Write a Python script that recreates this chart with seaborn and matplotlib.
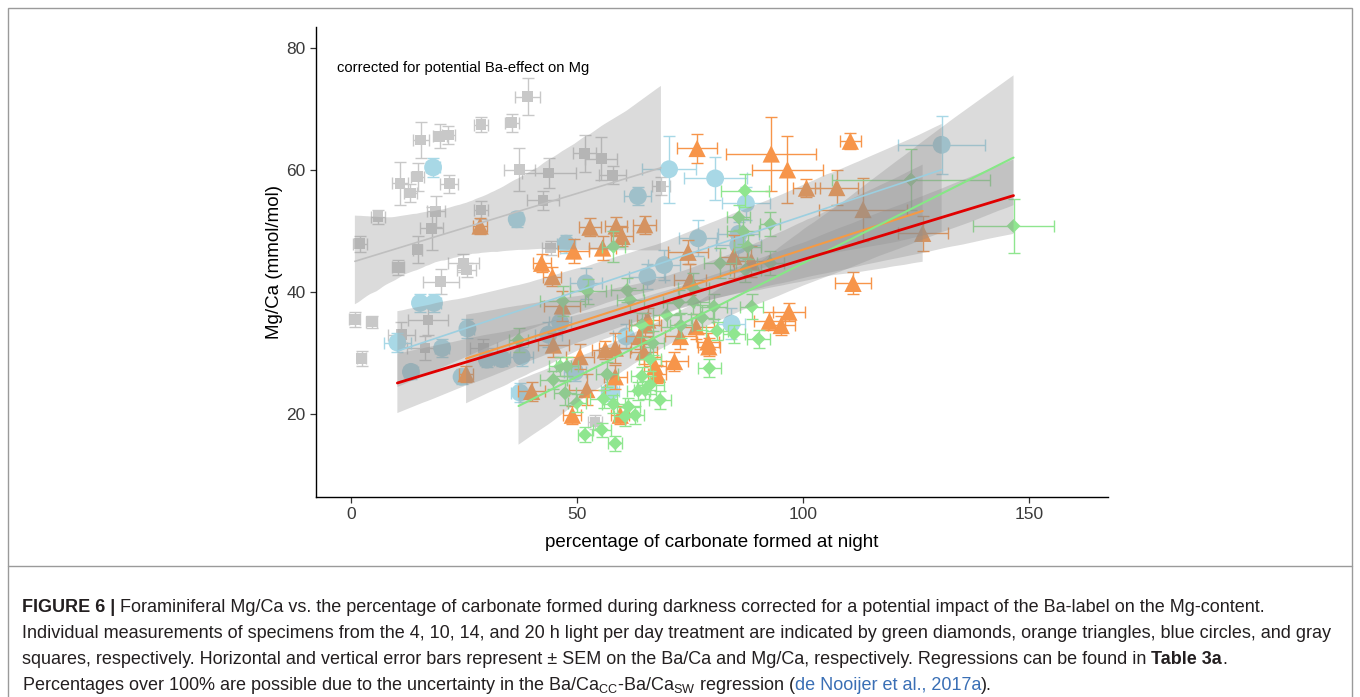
import numpy as np
import matplotlib
matplotlib.use("Agg")
import matplotlib.pyplot as plt
import seaborn as sns
from matplotlib.patches import Rectangle
from matplotlib.lines import Line2D

# ---------------- data ----------------
# 20 h light (gray squares)
gray_x = [0.9, 2.0, 2.4, 4.6, 6.0, 10.5, 10.9, 11.2, 13.2, 14.8, 14.8, 15.5, 16.4, 17.1, 17.9, 18.8, 19.7, 19.9,
          21.6, 21.8, 24.9, 25.6, 28.8, 28.8, 29.3, 35.6, 37.3, 39.1, 42.5, 43.8, 44.2, 51.7, 54.0, 55.4, 57.9, 68.6]
gray_y = [35.5, 47.9, 29.1, 35.1, 52.3, 44.0, 57.8, 33.0, 56.2, 58.9, 46.9, 64.9, 30.8, 35.4, 50.4, 53.2, 65.5, 41.7,
          65.7, 57.7, 44.7, 43.6, 67.4, 53.4, 30.8, 67.7, 60.0, 72.0, 55.0, 59.5, 47.2, 62.7, 18.7, 61.8, 59.1, 57.3]
gray_xerr = [1.2, 1.5, 1.0, 1.2, 1.5, 1.3, 1.8, 3.0, 1.5, 1.5, 1.0, 1.8, 4.0, 4.5, 2.5, 2.0, 1.5, 4.0,
             1.5, 2.0, 3.5, 2.0, 1.5, 1.5, 3.0, 1.5, 3.5, 2.8, 3.5, 6.0, 2.0, 2.5, 1.5, 3.5, 3.0, 2.0]
gray_yerr = [1.2, 1.3, 1.2, 1.0, 1.2, 1.2, 3.5, 2.0, 1.5, 2.3, 2.2, 3.0, 2.0, 2.5, 3.5, 2.5, 2.0, 2.0,
             1.5, 1.5, 1.5, 1.2, 1.2, 1.5, 1.5, 1.5, 3.5, 3.0, 1.5, 2.5, 1.2, 3.0, 1.2, 3.5, 1.5, 1.5]

# 14 h light (blue circles)
blue_x = [10.3, 13.3, 15.3, 18.4, 18.2, 20.2, 24.5, 25.8, 30.1, 33.4, 36.7, 37.4, 37.8, 43.7, 46.3, 47.6, 49.6,
          52.0, 57.4, 60.9, 63.5, 65.6, 69.3, 70.4, 76.8, 80.6, 84.2, 85.7, 85.8, 87.4, 130.7]
blue_y = [31.7, 26.9, 38.2, 38.2, 60.4, 30.8, 26.1, 34.0, 28.9, 29.0, 51.9, 23.5, 29.4, 33.0, 35.0, 47.9, 26.9,
          41.4, 23.7, 32.7, 55.7, 42.5, 44.4, 60.1, 48.8, 58.6, 34.8, 47.7, 49.5, 54.5, 64.1]
blue_xerr = [3.0, 1.5, 1.2, 1.5, 1.5, 1.5, 1.2, 1.5, 1.5, 1.5, 1.5, 2.0, 2.5, 3.0, 2.5, 2.0, 2.5,
             3.5, 2.0, 3.0, 3.0, 4.0, 3.5, 6.0, 4.2, 7.0, 3.0, 5.0, 4.5, 5.3, 9.6]
blue_yerr = [1.5, 1.2, 1.5, 1.5, 1.5, 1.5, 1.2, 1.5, 1.2, 1.2, 1.2, 1.5, 1.5, 2.0, 1.5, 1.5, 1.5,
             2.5, 1.5, 2.0, 1.5, 2.0, 2.5, 5.5, 2.9, 3.5, 2.5, 2.5, 2.0, 2.7, 4.8]

# 10 h light (orange triangles)
orange_x = [25.5, 28.6, 40.0, 42.2, 44.6, 44.8, 46.8, 49.0, 49.3, 50.7, 52.2, 52.9, 55.7, 56.3, 58.5, 58.5,
            58.7, 59.6, 60.0, 63.9, 64.8, 65.0, 65.1, 65.7, 67.3, 67.8, 71.6, 72.9, 74.6, 75.1, 76.4, 76.6,
            79.0, 79.2, 84.7, 88.6, 92.6, 93.0, 95.2, 96.6, 96.9, 100.8, 107.5, 110.5, 111.1, 113.3, 126.5]
orange_y = [26.6, 50.8, 23.7, 44.7, 42.5, 31.3, 37.7, 19.8, 46.7, 29.4, 24.0, 50.6, 47.2, 30.5, 30.8, 26.1,
            50.8, 19.8, 49.1, 32.7, 30.2, 51.0, 34.6, 35.4, 27.8, 26.5, 28.6, 32.7, 46.5, 42.0, 34.3, 63.5,
            31.8, 31.0, 45.8, 45.0, 35.2, 62.6, 34.5, 60.0, 36.7, 57.0, 57.1, 64.7, 41.4, 53.5, 49.6]
orange_xerr = [1.5, 1.5, 3.0, 2.0, 2.0, 3.5, 4.0, 2.0, 3.5, 3.0, 4.0, 2.5, 3.0, 3.0, 3.5, 2.5,
               2.5, 2.0, 2.5, 3.0, 3.0, 2.5, 3.5, 2.5, 2.5, 2.0, 3.0, 3.5, 4.5, 3.5, 4.0, 4.4,
               2.5, 2.5, 3.0, 4.0, 3.5, 10.0, 3.0, 7.9, 3.5, 2.9, 4.8, 2.3, 4.0, 9.8, 5.5]
orange_yerr = [1.3, 1.3, 1.5, 1.5, 1.5, 2.0, 2.5, 1.5, 2.0, 2.0, 2.5, 1.5, 2.0, 1.5, 2.5, 2.0,
               1.5, 1.5, 1.5, 2.0, 2.0, 1.5, 2.0, 2.0, 1.5, 1.5, 1.5, 2.0, 2.0, 2.5, 2.0, 2.4,
               1.5, 1.5, 3.5, 2.5, 1.5, 6.0, 1.5, 5.5, 1.5, 1.5, 2.9, 1.3, 1.8, 5.1, 2.9]

# 4 h light (green diamonds)
green_x = [37.1, 44.8, 46.3, 46.9, 47.8, 47.4, 50.0, 51.8, 52.4, 55.5, 55.9, 56.7, 58.1, 58.1, 58.5, 60.7, 61.1,
           61.4, 61.8, 62.9, 63.6, 64.4, 64.4, 65.1, 66.2, 66.2, 66.8, 68.4, 69.9, 72.5, 73.0, 75.8, 75.8, 77.7,
           79.3, 80.3, 81.0, 81.7, 84.8, 85.8, 86.8, 87.2, 87.3, 87.8, 88.7, 90.2, 92.8, 92.8, 123.9, 146.6]
green_y = [32.1, 25.6, 27.8, 38.5, 27.8, 23.4, 21.8, 16.6, 40.1, 17.4, 22.5, 26.5, 47.4, 21.6, 15.2, 19.6, 40.3,
           21.2, 38.7, 19.8, 23.8, 26.2, 34.6, 23.9, 24.8, 29.0, 31.6, 22.3, 36.2, 38.3, 34.5, 40.6, 38.4, 35.8,
           27.5, 37.6, 33.6, 44.7, 33.1, 52.2, 49.9, 56.6, 43.6, 47.4, 37.6, 32.3, 51.1, 44.7, 58.4, 50.8]
green_xerr = [2.0, 3.0, 2.5, 5.0, 2.5, 2.5, 2.0, 1.5, 4.0, 2.0, 3.0, 2.5, 2.5, 2.5, 1.5, 2.5, 3.5,
              2.5, 3.0, 2.0, 2.5, 2.5, 2.5, 2.5, 3.0, 2.5, 2.5, 2.5, 3.0, 3.5, 2.5, 3.5, 3.5, 2.5,
              2.5, 3.0, 2.5, 3.5, 2.5, 2.5, 3.5, 5.3, 3.5, 3.0, 2.5, 2.5, 2.2, 3.0, 17.5, 9.0]
green_yerr = [2.0, 1.5, 1.5, 2.5, 1.5, 2.0, 1.5, 1.2, 2.0, 1.2, 1.5, 2.0, 2.5, 1.5, 1.2, 1.5, 2.0,
              1.5, 2.0, 1.5, 1.5, 1.5, 2.0, 1.5, 1.5, 2.0, 2.0, 1.5, 2.0, 2.0, 2.0, 2.5, 2.0, 2.0,
              1.5, 2.0, 1.5, 2.5, 1.5, 2.0, 2.0, 2.7, 2.0, 2.0, 2.0, 1.5, 2.0, 2.0, 5.0, 4.5]

x_ticks = [0, 50, 100, 150]
y_ticks = [20, 40, 60, 80]
x_label = "percentage of carbonate formed at night"
y_label = "Mg/Ca (mmol/mol)"
panel_note = "corrected for potential Ba-effect on Mg"

# ---------------- figure ----------------
sns.set_style("ticks")
plt.rcParams['font.family'] = ['Liberation Sans', 'DejaVu Sans']

W, H = 1360, 697
fig = plt.figure(figsize=(W / 100, H / 100), dpi=100)
ax = fig.add_axes([316 / W, 1 - 497 / H, (1108 - 316) / W, (497 - 27) / H])

groups = [
    (gray_x, gray_y, gray_xerr, gray_yerr, "#C8C8C8", "s", 60),
    (blue_x, blue_y, blue_xerr, blue_yerr, "#A8D8E6", "o", 165),
    (orange_x, orange_y, orange_xerr, orange_yerr, "#F7954A", "^", 155),
    (green_x, green_y, green_xerr, green_yerr, "#8FE68F", "D", 50),
]

for i, (gx, gy, ex, ey, col, mk, sz) in enumerate(groups):
    z = 2 + i * 0.2
    ax.errorbar(gx, gy, xerr=ex, yerr=ey, fmt='none', ecolor=col, elinewidth=1.0,
                capsize=4, capthick=1.0, zorder=z)
    sns.scatterplot(x=gx, y=gy, marker=mk, s=sz, color=col, edgecolor='none', linewidth=0,
                    ax=ax, zorder=z + 0.1, legend=False)


def reg(xv, yv, line_color, lw):
    n0 = len(ax.collections)
    sns.regplot(x=np.asarray(xv, float), y=np.asarray(yv, float), ax=ax, scatter=False, ci=95,
                n_boot=1000, seed=3, truncate=True, color="#8f8f8f",
                line_kws=dict(color=line_color, lw=lw, zorder=7))
    for coll in ax.collections[n0:]:
        coll.set_facecolor("#8f8f8f")
        coll.set_alpha(0.32)
        coll.set_edgecolor('none')
        coll.set_zorder(5)


reg(gray_x, gray_y, "#BFBFBF", 1.2)
reg(blue_x, blue_y, "#9CCFE0", 1.2)
reg(orange_x, orange_y, "#F59A45", 1.5)
reg(green_x, green_y, "#86E886", 1.5)
all_x = list(blue_x) + list(orange_x) + list(green_x)
all_y = list(blue_y) + list(orange_y) + list(green_y)
reg(all_x, all_y, "#E00000", 2.0)

ax.set_xlim(-7.7, 167.5)
ax.set_ylim(6.4, 83.4)
ax.set_xticks(x_ticks)
ax.set_yticks(y_ticks)
ax.tick_params(axis='both', labelsize=12.5, length=4, width=0.9, colors='#333333', labelcolor='#3A3A3A')
ax.set_xlabel(x_label, fontsize=13.5, color='black', labelpad=8)
ax.set_ylabel(y_label, fontsize=13.5, color='black', labelpad=2.5)
sns.despine(ax=ax)
for s in ('left', 'bottom'):
    ax.spines[s].set_linewidth(1.0)
    ax.spines[s].set_color('black')
ax.text(-3.1, 76.7, panel_note, fontsize=10.6, va='center', ha='left', color='black')

# ---------------- frame & caption ----------------
fig.add_artist(Rectangle((8 / W, -0.05), (1352 - 8) / W, 1 - 8 / H + 0.05, transform=fig.transFigure,
                         fill=False, edgecolor='#9A9A9A', lw=1.0))
fig.add_artist(Line2D([8 / W, 1352 / W], [1 - 566 / H] * 2, transform=fig.transFigure,
                      color='#9A9A9A', lw=1.0))

cap_family = ['Liberation Sans Narrow', 'Liberation Sans', 'DejaVu Sans']
cap_col = '#231F20'
link_col = '#3A6FB5'
renderer = fig.canvas.get_renderer()


def measure(s, kw):
    t1 = fig.text(0, 0, "|" + s + "|", **kw)
    t2 = fig.text(0, 0, "||", **kw)
    w = t1.get_window_extent(renderer).width - t2.get_window_extent(renderer).width
    t1.remove()
    t2.remove()
    return w


lines = [
    [("FIGURE 6 |", dict(weight='bold')),
     (" Foraminiferal Mg/Ca vs. the percentage of carbonate formed during darkness corrected for a potential "
      "impact of the Ba-label on the Mg-content.", {})],
    [("Individual measurements of specimens from the 4, 10, 14, and 20 h light per day treatment are indicated "
      "by green diamonds, orange triangles, blue circles, and gray", {})],
    [("squares, respectively. Horizontal and vertical error bars represent \u00b1 SEM on the Ba/Ca and Mg/Ca, "
      "respectively. Regressions can be found in ", {}),
     ("Table 3a", dict(weight='bold')), (".", {})],
    [("Percentages over 100% are possible due to the uncertainty in the "
      "Ba/Ca$_{\\mathregular{CC}}$-Ba/Ca$_{\\mathregular{SW}}$ regression (", {}),
     ("de Nooijer et al., 2017a", dict(color=link_col)), (").", {})],
]

base_kw = dict(family=cap_family, fontsize=10, color=cap_col)
# size the caption so that its second line spans the same width as in the reference
w10 = measure(lines[1][0][0], base_kw)
cap_size = 10 * (1331 - 22) / w10

baselines = [612, 638, 664, 690]
for pieces, yb in zip(lines, baselines):
    x = 22
    for txt, extra in pieces:
        kw = dict(base_kw)
        kw['fontsize'] = cap_size
        kw.update(extra)
        fig.text(x / W, 1 - yb / H, txt, va='baseline', ha='left', **kw)
        x += measure(txt, kw)

fig.savefig("out.png", dpi=100)
